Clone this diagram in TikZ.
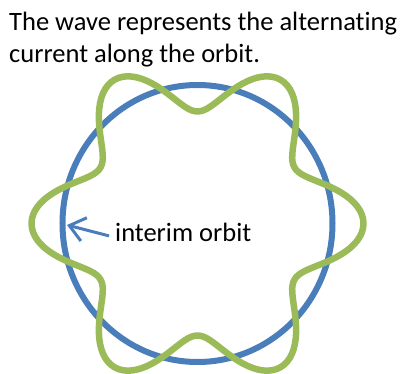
\documentclass[tikz,border=0pt]{standalone}
\usepackage{fontspec}
\setmainfont{Carlito}[Ligatures=NoCommon]
\usetikzlibrary{arrows.meta}
\definecolor{orbitblue}{HTML}{4A7EBB}
\definecolor{wavegreen}{HTML}{9BBB59}

\begin{document}
\begin{tikzpicture}[x=1pt, y=-1pt,
    orbit/.style={orbitblue, line width=6pt},
    wave/.style={wavegreen, line width=6.5pt, line join=round},
    pointer/.style={orbitblue, line width=3pt, -{Straight Barb[length=15pt, width=24pt]}},
    textlabel/.style={inner sep=0, font=\fontsize{26.5}{32}\selectfont}]
    \useasboundingbox (0,0) rectangle (400,374);

    \node[textlabel, anchor=base west, align=left] (title) at (9,63) {The wave represents the alternating\\current along the orbit.};

    % orbit and the current wave on it
    \coordinate (centre) at (197.5,223.5);
    \draw[orbit] (centre) ellipse [x radius=135pt, y radius=138.5pt];
    \draw[wave, shift={(centre)}] plot[domain=0:360, samples=241]
        ({(139+27*cos(6*\x))*cos(\x)}, {(139+27*cos(6*\x))*sin(\x)}) -- cycle;

    \node[textlabel, anchor=base west] (orbitlabel) at (115,242) {interim orbit};
    \coordinate (tip) at (67,225);
    \draw[pointer] ([xshift=-6pt, yshift=-3pt]orbitlabel.west) -- (tip);
\end{tikzpicture}
\end{document}
